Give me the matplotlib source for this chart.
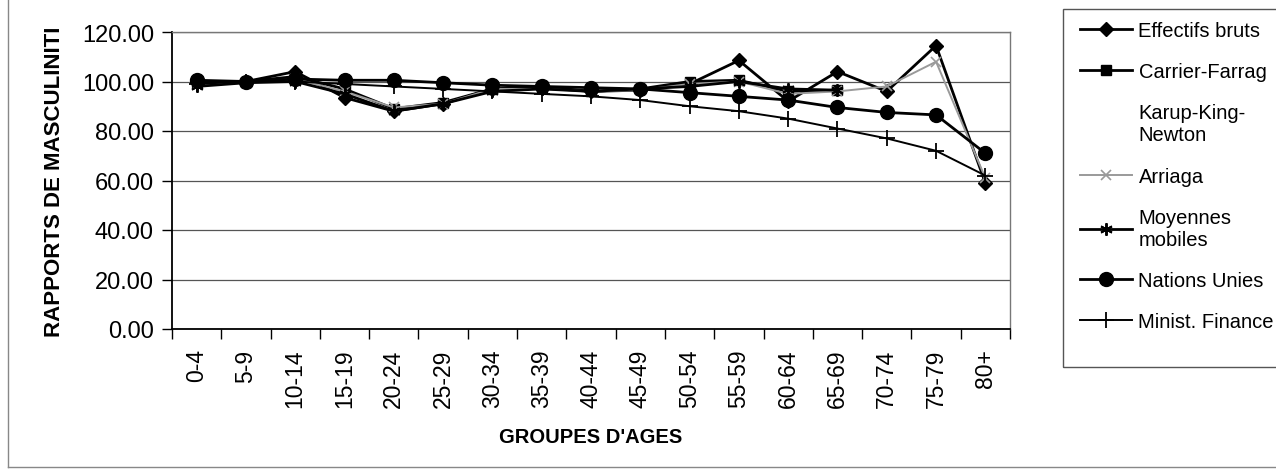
import matplotlib.pyplot as plt
from matplotlib.lines import Line2D
from matplotlib.patches import Rectangle
import numpy as np

plt.rcParams["font.family"] = ["Liberation Sans", "DejaVu Sans"]

groups = ["0-4", "5-9", "10-14", "15-19", "20-24", "25-29", "30-34", "35-39",
          "40-44", "45-49", "50-54", "55-59", "60-64", "65-69", "70-74",
          "75-79", "80+"]

effectifs_bruts = [100.0, 100.0, 104.0, 93.5, 88.0, 91.0, 97.0, 97.5, 96.0,
                   96.5, 99.0, 108.5, 92.0, 104.0, 96.0, 114.5, 59.0]
carrier_farrag = [100.0, 100.0, 102.0, 97.0, 89.0, 91.5, 97.0, 98.0, 96.0,
                  97.0, 100.0, 100.5, 96.0, 96.5, None, None, None]
karup_king_newton = [100.0, 100.0, 102.0, 97.0, 89.0, 91.5, 97.0, 98.0, 96.0,
                     97.0, 100.0, 100.5, 96.0, 96.5, None, None, None]
arriaga = [98.5, 99.5, 101.0, 96.0, 89.5, 91.0, 97.0, 97.0, 96.0,
           96.5, 99.0, 100.0, 95.0, 96.0, 98.0, 108.0, 61.0]
moyennes_mobiles = [98.0, 99.5, 100.0, 95.0, 88.0, 91.0, 96.0, 97.0, 96.0,
                    97.0, 98.0, 100.0, 97.0, 96.5, None, None, None]
nations_unies = [100.5, 100.0, 101.0, 100.5, 100.5, 99.5, 98.5, 98.0, 97.5,
                 97.0, 95.5, 94.0, 92.5, 89.5, 87.5, 86.5, 71.0]
minist_finance = [99.0, 100.0, 100.0, 99.0, 98.0, 97.0, 96.0, 95.0, 94.0,
                  92.5, 90.0, 88.0, 85.0, 81.0, 77.0, 72.0, 62.0]

y_ticks = [0, 20, 40, 60, 80, 100, 120]


def as_array(values):
    return np.array([np.nan if v is None else v for v in values], dtype=float)


fig = plt.figure(figsize=(12.76, 4.77), dpi=100)
ax = fig.add_axes([172 / 1276, 1 - 330 / 477, (1010 - 172) / 1276, (330 - 33) / 477])

x = np.arange(len(groups))

series = [
    ("Effectifs bruts", effectifs_bruts,
     dict(color="black", lw=2.0, marker="D", ms=7, mfc="black", mec="black")),
    ("Carrier-Farrag", carrier_farrag,
     dict(color="black", lw=2.0, marker="s", ms=7, mfc="black", mec="black")),
    ("Karup-King-\nNewton", karup_king_newton,
     dict(color="black", lw=0, ls="none", marker="none")),
    ("Arriaga", arriaga,
     dict(color="#9a9a9a", lw=1.4, marker="x", ms=7, mew=1.2)),
    ("Moyennes\nmobiles", moyennes_mobiles,
     dict(color="black", lw=2.0, marker=(6, 2, 0), ms=9, mew=1.4)),
    ("Nations Unies", nations_unies,
     dict(color="black", lw=2.0, marker="o", ms=10, mfc="black", mec="black")),
    ("Minist. Finance", minist_finance,
     dict(color="black", lw=1.4, marker="+", ms=12, mew=1.3)),
]

handles = []
for label, values, style in series:
    line, = ax.plot(x, as_array(values), label=label, clip_on=False, **style)
    handles.append(line)

ax.set_xlim(-0.5, len(groups) - 0.5)
ax.set_ylim(0, 120)
ax.set_yticks(y_ticks)
ax.set_yticklabels([f"{v:.2f}" for v in y_ticks], fontsize=17)
ax.yaxis.grid(True, color="#555555", lw=0.9)
ax.set_axisbelow(True)

ax.set_xticks(x)
ax.set_xticklabels(groups, rotation=90, fontsize=16.5)
ax.set_xticks(np.arange(-0.5, len(groups)), minor=True)
ax.tick_params(axis="x", which="major", length=0, pad=14)
ax.tick_params(axis="x", which="minor", length=7, width=1, direction="out")
ax.tick_params(axis="y", length=7, width=1, direction="out", pad=6)

for side in ("top", "right"):
    ax.spines[side].set_color("#777777")
    ax.spines[side].set_linewidth(1.0)
ax.spines["left"].set_linewidth(1.3)
ax.spines["bottom"].set_linewidth(1.3)

ax.set_xlabel("GROUPES D'AGES", fontsize=14.5, fontweight="bold", labelpad=14)
ax.set_ylabel("RAPPORTS DE MASCULINITI", fontsize=16, fontweight="bold", labelpad=12)

# legend box, open on the right side
fig.patches.append(Rectangle((1063 / 1276, 1 - 368 / 477), 0.3, (368 - 10) / 477,
                             transform=fig.transFigure, fill=False,
                             edgecolor="#555555", lw=1.0))
fig.legend(handles=handles, loc="upper left",
           bbox_to_anchor=(1066 / 1276, 1 - 8 / 477),
           frameon=False, fontsize=14.5, handlelength=2.6, handletextpad=0.3,
           labelspacing=1.1, borderpad=0.2)

# chart area border
fig.lines.append(Line2D([8 / 1276, 8 / 1276], [1.0, 1 - 468 / 477],
                        transform=fig.transFigure, color="#888888", lw=1.0))
fig.lines.append(Line2D([8 / 1276, 1.0], [1 - 468 / 477, 1 - 468 / 477],
                        transform=fig.transFigure, color="#888888", lw=1.0))

fig.savefig("out.png", dpi=100)
